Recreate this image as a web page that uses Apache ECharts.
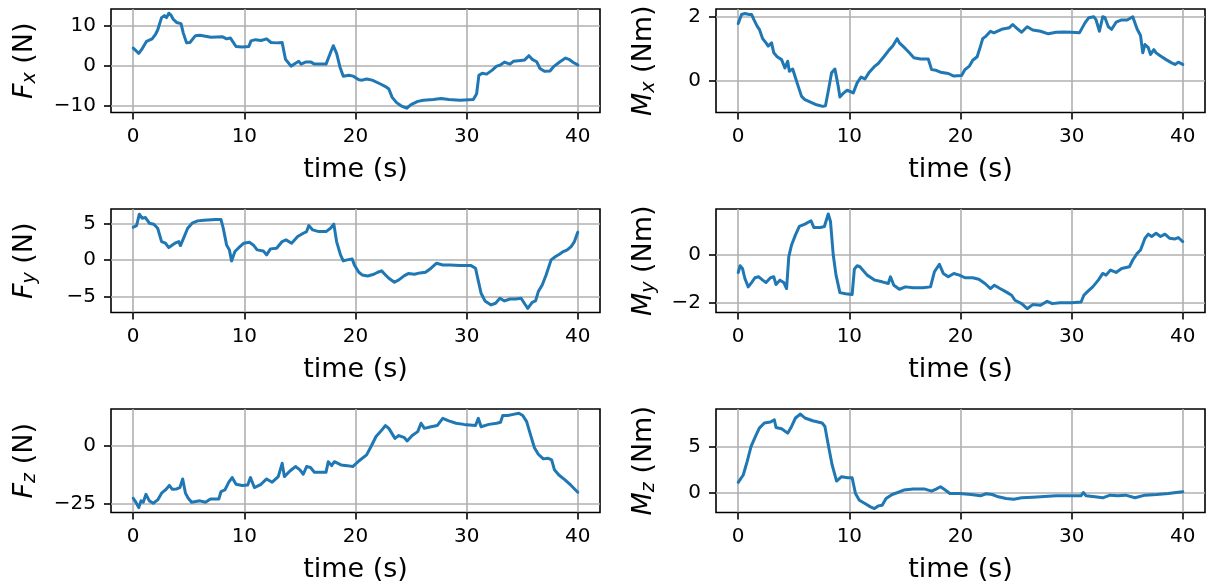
<!DOCTYPE html>
<html><head><meta charset="utf-8">
<script src="https://cdn.jsdelivr.net/npm/echarts@6/dist/echarts.min.js"></script>
<style>html,body{margin:0;padding:0;background:#fff}#c{width:1206px;height:586px}</style>
</head><body><div id="c"></div>
<script>
// ---- data: [time (s), value] ----
const fx = [[0,4.4],[0.5,3.1],[0.75,4.0],[1.2,6.1],[1.7,6.7],[2.0,7.8],[2.2,8.9],[2.55,12.0],[2.8,12.5],[3.0,12.0],[3.2,13.1],[3.4,12.6],[3.6,11.6],[3.9,10.8],[4.3,10.5],[4.5,8.2],[4.8,5.7],[5.1,5.8],[5.6,7.5],[6.0,7.6],[7.0,7.1],[8.05,7.2],[8.4,6.7],[8.75,6.9],[9.25,4.8],[9.8,4.7],[10.4,4.8],[10.6,6.2],[11.0,6.5],[11.5,6.3],[12.0,6.7],[12.4,5.8],[12.9,5.7],[13.4,5.8],[13.7,1.6],[14.2,-0.1],[14.6,0.6],[14.9,1.1],[15.1,0.4],[15.5,0.9],[16.0,0.9],[16.3,0.4],[17.35,0.4],[17.8,3.6],[18.0,5.0],[18.3,3.1],[18.6,-0.3],[18.9,-2.6],[19.4,-2.4],[19.8,-2.6],[20.3,-3.5],[20.6,-3.6],[21.0,-3.3],[21.5,-3.6],[22.2,-4.5],[22.7,-5.2],[23.0,-5.8],[23.3,-7.9],[23.7,-9.2],[24.1,-10.0],[24.6,-10.6],[25.0,-9.7],[25.6,-8.9],[26.1,-8.6],[27.0,-8.4],[27.7,-8.2],[28.4,-8.4],[29.4,-8.6],[30.6,-8.4],[30.9,-7.0],[31.1,-2.4],[31.4,-1.9],[31.8,-2.1],[32.3,-1.1],[32.7,-0.1],[33.0,0.1],[33.4,0.9],[33.9,0.4],[34.2,1.1],[34.9,1.3],[35.2,1.4],[35.6,2.5],[35.9,1.6],[36.3,1.0],[36.6,-0.7],[37.0,-1.4],[37.5,-1.3],[37.8,-0.3],[38.4,1.0],[38.9,1.9],[39.2,1.6],[39.6,0.8],[40,0.2]];

const mx = [[0,1.79],[0.17,1.83],[0.3,2.07],[0.6,2.10],[1.0,2.07],[1.2,2.07],[1.4,1.92],[1.7,1.71],[1.9,1.61],[2.2,1.32],[2.5,1.19],[2.7,1.09],[3.0,1.19],[3.2,0.88],[3.5,0.76],[3.9,0.67],[4.2,0.41],[4.45,0.62],[4.6,0.31],[4.9,0.38],[5.1,0.16],[5.4,-0.16],[5.7,-0.47],[6.0,-0.57],[6.5,-0.65],[7.05,-0.73],[7.6,-0.78],[7.85,-0.76],[8.1,-0.31],[8.4,0.26],[8.7,0.38],[9.0,-0.16],[9.15,-0.49],[9.5,-0.36],[9.8,-0.28],[10.35,-0.36],[10.7,-0.05],[11.05,0.13],[11.4,0.07],[11.75,0.26],[12.3,0.47],[12.6,0.55],[13.1,0.76],[13.6,0.98],[13.9,1.09],[14.3,1.32],[14.5,1.19],[15.05,1.01],[15.4,0.88],[15.8,0.73],[16.4,0.69],[17.1,0.69],[17.4,0.36],[17.8,0.34],[18.2,0.28],[18.9,0.24],[19.4,0.16],[20.1,0.18],[20.4,0.36],[20.8,0.47],[21.1,0.65],[21.5,0.76],[21.8,1.09],[22.0,1.32],[22.3,1.40],[22.7,1.55],[23.0,1.50],[23.7,1.61],[24.4,1.66],[24.7,1.76],[25.1,1.63],[25.5,1.52],[26.0,1.69],[26.5,1.59],[27.2,1.55],[27.9,1.47],[28.6,1.52],[29.3,1.53],[30.0,1.52],[30.7,1.50],[31.2,1.81],[31.55,1.97],[32.0,2.00],[32.2,1.90],[32.5,1.55],[32.8,2.00],[33.0,1.97],[33.3,1.69],[33.6,1.61],[34.0,1.83],[34.5,1.90],[35.0,1.90],[35.5,2.00],[35.9,1.61],[36.2,1.42],[36.4,0.88],[36.6,1.14],[36.9,1.04],[37.1,0.83],[37.4,0.98],[37.6,0.88],[38.0,0.78],[38.5,0.67],[39.0,0.57],[39.3,0.52],[39.6,0.59],[40,0.52]];

const fy = [[0,4.56],[0.3,4.79],[0.55,6.36],[0.8,5.81],[1.1,5.9],[1.45,5.12],[1.85,4.98],[2.2,4.42],[2.55,2.58],[2.9,2.35],[3.2,1.75],[3.75,2.35],[4.1,2.58],[4.25,2.03],[4.55,3.13],[4.9,4.42],[5.3,5.12],[5.8,5.44],[6.35,5.53],[7.4,5.62],[7.9,5.62],[8.1,4.42],[8.4,2.12],[8.65,1.43],[8.85,-0.09],[9.0,0.05],[9.15,1.2],[9.45,1.66],[9.95,2.35],[10.45,2.49],[10.8,2.12],[11.15,1.43],[11.7,1.29],[12.0,0.74],[12.35,1.57],[12.9,1.66],[13.4,2.58],[13.75,2.81],[14.25,2.35],[14.8,3.27],[15.3,3.73],[15.6,3.96],[15.8,4.79],[16.15,4.19],[16.7,3.96],[17.35,3.96],[17.75,4.42],[18.05,4.98],[18.3,2.58],[18.65,0.74],[18.9,-0.09],[19.25,0.05],[19.7,0.18],[19.9,-0.65],[20.3,-1.66],[20.6,-2.03],[21.1,-2.17],[21.65,-1.94],[22.0,-1.66],[22.35,-1.47],[22.7,-2.03],[23.0,-2.49],[23.5,-3.04],[23.9,-2.72],[24.4,-2.12],[24.75,-1.84],[25.3,-1.94],[25.8,-1.75],[26.3,-1.66],[26.8,-1.1],[27.3,-0.41],[27.85,-0.65],[28.5,-0.65],[29.4,-0.74],[30.4,-0.74],[30.8,-1.1],[31.05,-2.86],[31.3,-4.56],[31.65,-5.62],[32.2,-6.18],[32.6,-5.94],[33.0,-5.25],[33.4,-5.62],[33.9,-5.35],[34.4,-5.35],[34.9,-5.25],[35.25,-6.08],[35.5,-6.64],[35.9,-5.81],[36.2,-5.62],[36.45,-4.33],[36.8,-3.41],[37.15,-2.03],[37.6,0.05],[38.0,0.51],[38.35,0.83],[38.7,1.2],[39.05,1.43],[39.4,1.89],[39.7,2.58],[40,3.87]];

const my = [[0,-0.73],[0.17,-0.45],[0.38,-0.56],[0.6,-0.98],[0.9,-1.33],[1.2,-1.15],[1.5,-0.95],[1.85,-0.91],[2.2,-1.05],[2.5,-1.15],[2.9,-0.95],[3.2,-0.91],[3.4,-1.23],[3.75,-1.05],[4.1,-1.15],[4.35,-1.4],[4.55,-0.07],[4.8,0.42],[5.15,0.84],[5.5,1.19],[6.0,1.29],[6.55,1.43],[6.8,1.15],[7.4,1.15],[7.75,1.19],[8.1,1.71],[8.3,1.40],[8.55,0],[8.8,-0.84],[9.15,-1.57],[9.65,-1.62],[10.25,-1.65],[10.45,-0.59],[10.7,-0.45],[10.95,-0.49],[11.6,-0.84],[12.3,-1.05],[12.95,-1.12],[13.5,-1.19],[13.7,-0.91],[14.0,-1.26],[14.5,-1.43],[15.05,-1.33],[15.75,-1.37],[16.6,-1.37],[17.3,-1.33],[17.65,-0.7],[18.1,-0.39],[18.45,-0.77],[18.9,-0.91],[19.4,-0.77],[19.9,-0.84],[20.4,-0.95],[21.1,-0.95],[21.65,-1.01],[22.2,-1.19],[22.7,-1.4],[23.05,-1.26],[23.55,-1.4],[24.1,-1.54],[24.6,-1.68],[24.9,-1.89],[25.5,-2.03],[26.0,-2.24],[26.5,-2.07],[27.2,-2.1],[27.8,-1.93],[28.25,-2.03],[28.95,-1.99],[30.0,-1.99],[30.85,-1.96],[31.1,-1.68],[31.4,-1.54],[31.9,-1.33],[32.4,-1.05],[32.8,-0.77],[33.1,-0.84],[33.5,-0.63],[34.0,-0.73],[34.5,-0.56],[35.2,-0.49],[35.5,-0.21],[35.9,0.07],[36.2,0.21],[36.6,0.7],[36.9,0.87],[37.2,0.77],[37.6,0.91],[38.0,0.77],[38.4,0.87],[38.8,0.7],[39.3,0.67],[39.6,0.73],[40,0.56]];

const fz = [[0,-22.6],[0.2,-24],[0.5,-26.6],[0.7,-23.7],[0.9,-24.3],[1.15,-20.9],[1.45,-23.7],[1.8,-24.7],[2.2,-23.3],[2.55,-20.4],[2.9,-19],[3.25,-17.1],[3.5,-18.7],[3.9,-18.6],[4.2,-18],[4.45,-14.3],[4.7,-20.4],[4.95,-22.6],[5.25,-24.3],[6.0,-23.7],[6.5,-24.3],[6.95,-22.9],[7.7,-22.9],[7.9,-19.7],[8.25,-19],[8.6,-15.7],[8.9,-13.7],[9.25,-16.6],[9.8,-17.1],[10.3,-16.9],[10.55,-13.7],[10.9,-18],[11.5,-16.6],[12.0,-14.3],[12.5,-15.7],[13.05,-13.3],[13.4,-7.6],[13.6,-13.3],[14.1,-10.9],[14.6,-9],[15.0,-10.4],[15.3,-12.3],[15.6,-9],[15.95,-9.4],[16.3,-11.4],[17.35,-11.4],[17.55,-6.9],[17.85,-8.6],[18.1,-6.9],[18.7,-8.3],[19.25,-8.6],[19.75,-9],[20.3,-6.6],[21.0,-4],[21.4,-0.4],[21.85,3.9],[22.25,6],[22.7,8.6],[23.0,7.4],[23.55,3.1],[23.9,4.3],[24.4,3.4],[24.65,2],[25.1,4.3],[25.6,6],[25.9,9.6],[26.2,7.4],[26.8,8.1],[27.35,8.6],[27.85,11.7],[28.4,10.6],[29.05,9.6],[29.75,9.1],[30.8,8.6],[31.05,11.7],[31.3,8.1],[32.0,9.1],[32.7,9.6],[33.05,10],[33.25,12.9],[33.7,12.9],[34.2,13.4],[34.7,13.9],[35.05,12.9],[35.4,10.3],[35.75,4.6],[36.1,-0.9],[36.45,-3.7],[36.9,-5.7],[37.3,-5.4],[37.65,-6.1],[37.9,-10.4],[38.3,-12.6],[38.85,-14.7],[39.4,-17.1],[40,-20]];

const mz = [[0,1.17],[0.17,1.31],[0.45,1.97],[0.8,3.43],[1.15,5.07],[1.55,6.17],[1.9,7.08],[2.35,7.63],[2.9,7.74],[3.25,7.99],[3.4,7.15],[3.9,7.01],[4.45,6.53],[4.8,7.26],[5.15,8.18],[5.6,8.61],[6.0,8.18],[6.7,7.88],[7.55,7.63],[7.8,7.26],[8.1,5.26],[8.45,3.07],[8.85,1.31],[9.3,1.79],[9.85,1.68],[10.25,1.68],[10.55,-0.04],[10.9,-0.77],[11.4,-1.13],[11.9,-1.5],[12.25,-1.68],[12.6,-1.39],[12.95,-1.31],[13.3,-0.58],[13.85,-0.15],[14.35,0.07],[14.9,0.33],[15.75,0.44],[16.8,0.44],[17.4,0.22],[17.8,0.44],[18.2,0.69],[18.5,0.44],[19.05,-0.04],[19.9,-0.04],[20.95,-0.15],[21.8,-0.29],[22.3,-0.07],[22.85,-0.15],[23.4,-0.4],[24.1,-0.58],[24.8,-0.66],[25.5,-0.51],[26.5,-0.44],[27.55,-0.36],[28.6,-0.29],[30.0,-0.29],[30.85,-0.29],[31.05,0.07],[31.3,-0.29],[32.1,-0.4],[32.8,-0.51],[33.45,-0.22],[34.15,-0.29],[34.85,-0.22],[35.7,-0.51],[36.6,-0.22],[37.65,-0.15],[38.7,-0.04],[39.4,0.07],[40,0.15]];

const xTicks = [0, 10, 20, 30, 40];
const fxTicks = [-10, 0, 10];
const mxTicks = [0, 2];
const fyTicks = [-5, 0, 5];
const myTicks = [-2, 0];
const fzTicks = [-25, 0];
const mzTicks = [0, 5];
const xLabel = 'time (s)';

// ---- panel definitions ----
const panels = [
  {data: fx, sym: 'F', sub: 'x', unit: ' (N)',  ticks: fxTicks, min: -11.67, max: 14.15, col: 0, row: 0},
  {data: mx, sym: 'M', sub: 'x', unit: ' (Nm)', ticks: mxTicks, min: -0.97,  max: 2.24,  col: 1, row: 0},
  {data: fy, sym: 'F', sub: 'y', unit: ' (N)',  ticks: fyTicks, min: -7.22,  max: 7.08,  col: 0, row: 1},
  {data: my, sym: 'M', sub: 'y', unit: ' (Nm)', ticks: myTicks, min: -2.40,  max: 1.92,  col: 1, row: 1},
  {data: fz, sym: 'F', sub: 'z', unit: ' (N)',  ticks: fzTicks, min: -28.7,  max: 15.7,  col: 0, row: 2},
  {data: mz, sym: 'M', sub: 'z', unit: ' (Nm)', ticks: mzTicks, min: -2.11,  max: 9.16,  col: 1, row: 2}
];

const FONT = "'DejaVu Sans', sans-serif";
const lefts = [111, 716];
const tops = [9, 209, 409];
const W = 489, H = 103.5;
const minus = v => String(v).replace('-', '\u2212');

const grid = [], xAxis = [], yAxis = [], series = [];
panels.forEach((p, i) => {
  grid.push({left: lefts[p.col], top: tops[p.row], width: W, height: H,
    show: true, borderColor: '#000', borderWidth: 1.6, backgroundColor: 'transparent'});
  xAxis.push({type: 'value', gridIndex: i, min: -2, max: 42,
    axisLine: {show: false, onZero: false},
    axisTick: {show: true, customValues: xTicks, length: 7, lineStyle: {color: '#000', width: 1.6}},
    axisLabel: {customValues: xTicks, fontSize: 20, color: '#000', fontFamily: FONT, margin: 14},
    splitLine: {show: true, lineStyle: {color: '#b0b0b0', width: 1.6}},
    name: xLabel, nameLocation: 'middle', nameGap: 44,
    nameTextStyle: {fontSize: 27, color: '#000', fontFamily: FONT}
  });
  yAxis.push({type: 'value', gridIndex: i, min: p.min, max: p.max,
    axisLine: {show: false, onZero: false},
    axisTick: {show: true, customValues: p.ticks, length: 7, lineStyle: {color: '#000', width: 1.6}},
    axisLabel: {customValues: p.ticks, fontSize: 20, color: '#000', fontFamily: FONT, margin: 15, formatter: minus},
    splitLine: {show: true, lineStyle: {color: '#b0b0b0', width: 1.6}},
    name: '{f|' + p.sym + '}{s|' + p.sub + '}{n|' + p.unit + '}',
    nameLocation: 'middle', nameRotate: 90, nameGap: p.col === 0 ? 71 : 57,
    nameTextStyle: {fontSize: 27, color: '#000', fontFamily: FONT,
      rich: {
        f: {fontSize: 27, fontStyle: 'italic', fontFamily: FONT, color: '#000', lineHeight: 30},
        s: {fontSize: 19, fontStyle: 'italic', fontFamily: FONT, color: '#000', lineHeight: 17, verticalAlign: 'bottom'},
        n: {fontSize: 27, fontFamily: FONT, color: '#000', lineHeight: 30}
      }}
  });
  series.push({type: 'line', xAxisIndex: i, yAxisIndex: i, data: p.data,
    showSymbol: false, symbol: 'none', silent: true,
    lineStyle: {color: '#1f77b4', width: 3, join: 'round', cap: 'round'}});
});

const chart = echarts.init(document.getElementById('c'), null, {renderer: 'canvas'});
chart.setOption({animation: false, backgroundColor: '#fff', grid, xAxis, yAxis, series});
</script>
</body></html>
